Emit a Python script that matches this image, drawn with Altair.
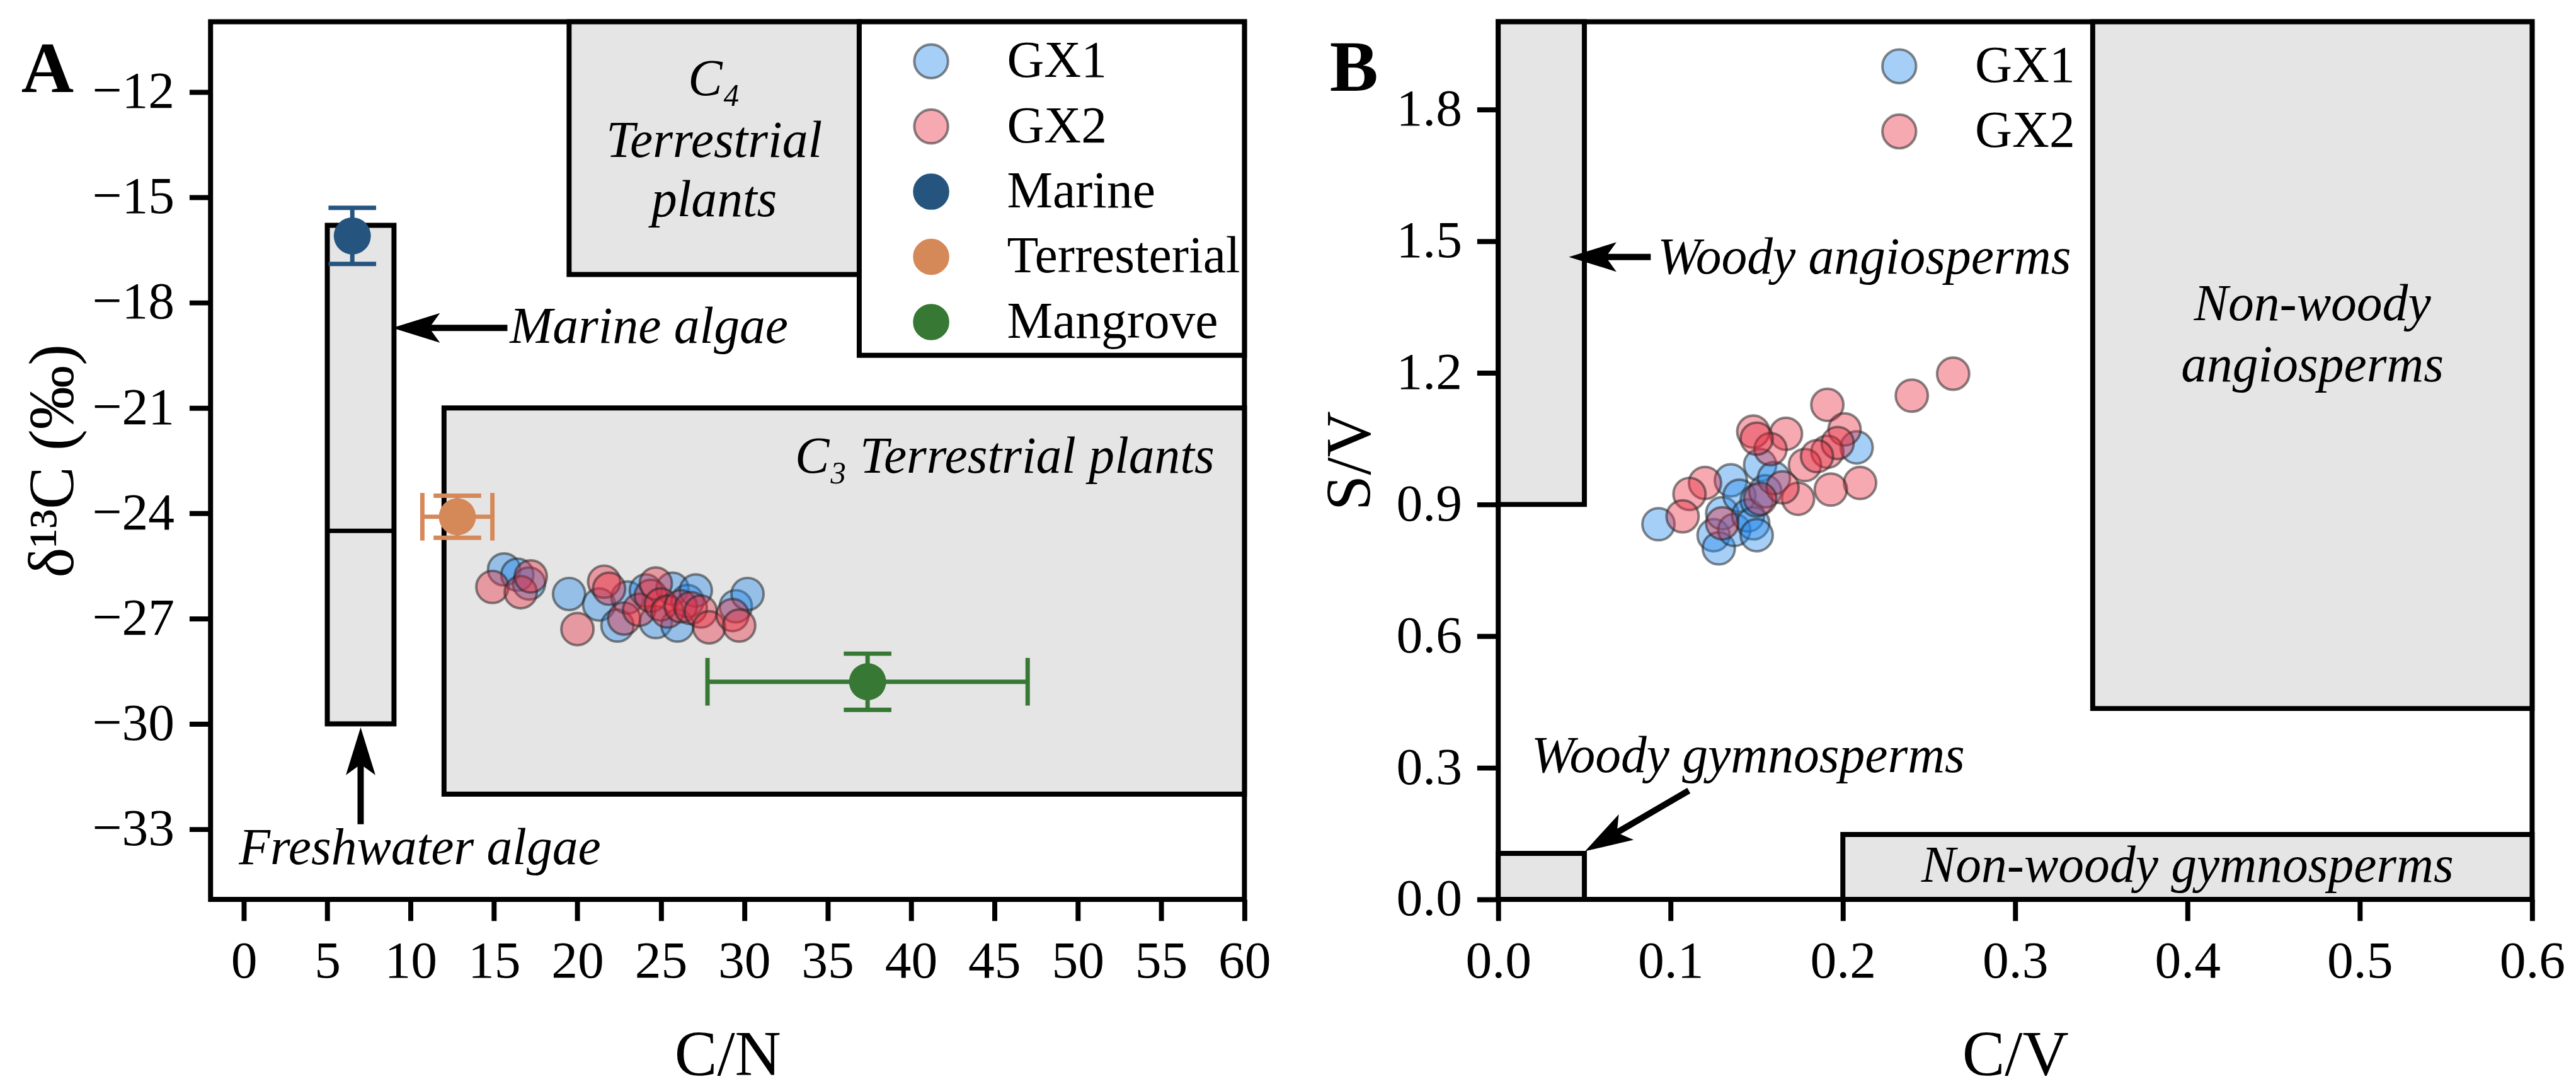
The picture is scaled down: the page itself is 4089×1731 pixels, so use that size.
import math
import altair as alt
import pandas as pd

FONT = "Liberation Serif"
W, H = 1650, 1400

# ---------------- Panel A : C/N vs d13C ----------------
A_XDOM = [-2, 60]
A_YDOM = [-35, -10]
A_XTICKS = list(range(0, 61, 5))
A_YTICKS = list(range(-33, -11, 3))

gx1_cn = [15.6, 16.4, 17.1, 19.5, 21.3, 22.4, 23.0, 24.1, 24.7, 25.7, 26.0, 26.6, 27.1, 29.5, 30.2]
gx1_d13c = [-25.6, -25.75, -26.0, -26.3, -26.6, -27.2, -26.4, -26.2, -27.1, -26.15, -27.2, -26.5, -26.2, -26.65, -26.3]
gx2_cn = [14.9, 16.6, 17.2, 20.0, 21.6, 21.9, 22.8, 23.7, 24.4, 24.7, 25.0, 25.4, 26.2, 26.8, 27.4, 27.9, 29.3, 29.7]
gx2_d13c = [-26.1, -26.25, -25.8, -27.3, -25.95, -26.15, -27.0, -26.75, -26.35, -26.0, -26.6, -26.8, -26.65, -26.7, -26.8, -27.25, -26.9, -27.2]

src_names = ["Marine", "Terresterial", "Mangrove"]
src_colors = ["#25557f", "#d58959", "#367834"]
src_cn = [6.5, 12.8, 37.4]
src_cn_err = [0.0, 2.1, 9.6]
src_d13c = [-16.1, -24.1, -28.8]
src_d13c_err = [0.8, 0.6, 0.8]

boxA_x1 = [5, 19.5, 12]
boxA_x2 = [9, 36.9, 60]
boxA_y1 = [-30, -17.2, -32]
boxA_y2 = [-15.8, -10, -21]
dividerA_x = [5, 9]
dividerA_y = [-24.5]
legboxA_x = [36.9, 60]
legboxA_y = [-19.5, -10]

textA_center = ["C\u2084", "Terrestrial", "plants"]
textA_center_x = [28.2, 28.2, 28.2]
textA_center_y = [-11.65, -13.4, -15.1]
textA_right = ["C\u2083 Terrestrial plants"]
textA_right_x = [58.2]
textA_right_y = [-22.4]
textA_left = ["Marine algae", "Freshwater algae"]
textA_left_x = [15.95, -0.3]
textA_left_y = [-18.7, -33.55]

arrowA_tail_x = [15.8, 7.0]
arrowA_tail_y = [-18.72, -32.86]
arrowA_tip_x = [8.9, 7.0]
arrowA_tip_y = [-18.72, -30.1]

# ---------------- Panel B : C/V vs S/V ----------------
B_XDOM = [0, 0.6]
B_YDOM = [0, 2.0]
B_XTICKS = [0, 0.1, 0.2, 0.3, 0.4, 0.5, 0.6]
B_YTICKS = [0, 0.3, 0.6, 0.9, 1.2, 1.5, 1.8]

gx1_cv = [0.093, 0.125, 0.128, 0.130, 0.135, 0.137, 0.140, 0.145, 0.148, 0.150, 0.150, 0.152, 0.155, 0.160, 0.208]
gx1_sv = [0.855, 0.830, 0.800, 0.880, 0.955, 0.842, 0.920, 0.875, 0.857, 0.909, 0.830, 0.990, 0.930, 0.960, 1.030]
gx2_cv = [0.264, 0.240, 0.191, 0.201, 0.167, 0.148, 0.158, 0.191, 0.197, 0.178, 0.210, 0.193, 0.174, 0.165,
          0.152, 0.120, 0.111, 0.107, 0.130, 0.150, 0.185]
gx2_sv = [1.198, 1.148, 1.127, 1.071, 1.061, 1.066, 1.026, 1.020, 1.040, 0.990, 0.949, 0.934, 0.913, 0.939,
          0.913, 0.949, 0.924, 0.873, 0.857, 1.050, 1.010]

boxB_x1 = [0, 0, 0.345, 0.2]
boxB_x2 = [0.05, 0.05, 0.6, 0.6]
boxB_y1 = [0.9, 0, 0.435, 0]
boxB_y2 = [2.0, 0.105, 2.0, 0.148]

textB_left = ["Woody angiosperms", "Woody gymnosperms"]
textB_left_x = [0.0925, 0.0193]
textB_left_y = [1.462, 0.326]
textB_center = ["Non-woody", "angiosperms", "Non-woody gymnosperms"]
textB_center_x = [0.4725, 0.4725, 0.4]
textB_center_y = [1.355, 1.216, 0.0765]

arrowB_tail_x = [0.0885, 0.1106]
arrowB_tail_y = [1.464, 0.248]
arrowB_tip_x = [0.041, 0.0504]
arrowB_tip_y = [1.464, 0.11]

# ---------------- styling ----------------
series_domain = ["GX1", "GX2"] + src_names
fill_range = ["rgba(33,136,235,0.4)", "rgba(232,40,60,0.4)"] + src_colors
stroke_range = ["rgba(40,40,40,0.55)", "rgba(40,40,40,0.55)"] + src_colors
BOX_FILL = "#e5e5e5"
HEAD = "M0,0 L-2,-0.62 L-1.55,0 L-2,0.62 Z"
HEAD_SIZE = 5776
NECK_PX = 40


class Axes:
    """Identical x / y encodings for every layer of one panel, so the axes merge."""

    def __init__(self, xdom, ydom, xticks, yticks, fmt, xtitle, ytitle, ytitle_x):
        self.xs = alt.Scale(domain=xdom, nice=False, zero=False)
        self.ys = alt.Scale(domain=ydom, nice=False, zero=False)
        self.xaxis = alt.Axis(values=xticks, format=fmt, titleY=280, titleBaseline="alphabetic")
        self.yaxis = alt.Axis(values=yticks, format=fmt, titleX=ytitle_x, titleBaseline="alphabetic")
        self.xtitle, self.ytitle = xtitle, ytitle

    def x(self, field):
        return alt.X(field, type="quantitative", scale=self.xs, axis=self.xaxis, title=self.xtitle)

    def y(self, field):
        return alt.Y(field, type="quantitative", scale=self.ys, axis=self.yaxis, title=self.ytitle)


def arrow_frame(tx, ty, px, py, kx, ky):
    rows = []
    for a, b, c, d in zip(tx, ty, px, py):
        dxp = (c - a) * kx
        dyp = -(d - b) * ky
        L = math.hypot(dxp, dyp)
        f = NECK_PX / L
        rows.append({
            "tail_x": a, "tail_y": b, "tip_x": c, "tip_y": d,
            "neck_x": c + (a - c) * f, "neck_y": d + (b - d) * f,
            "ang": math.degrees(math.atan2(dyp, dxp)) % 360,
        })
    return pd.DataFrame(rows)


def text_layer(ax, labels, xs, ys, align, size=82):
    df = pd.DataFrame({"label": labels, "x": xs, "y": ys})
    return alt.Chart(df).mark_text(
        font=FONT, fontStyle="italic", fontSize=size, align=align, baseline="middle", color="black"
    ).encode(x=ax.x("x"), y=ax.y("y"), text="label:N")


def arrow_layers(ax, adf):
    shaft = alt.Chart(adf).mark_rule(strokeWidth=10, color="black").encode(
        x=ax.x("tail_x"), y=ax.y("tail_y"), x2="neck_x:Q", y2="neck_y:Q")
    head = alt.Chart(adf).mark_point(
        shape=HEAD, filled=True, fill="black", size=HEAD_SIZE, opacity=1, strokeWidth=0
    ).encode(x=ax.x("tip_x"), y=ax.y("tip_y"), angle=alt.Angle("ang:Q", scale=None))
    return [shaft, head]


def letter_layer(letter, xpx, ypx):
    return alt.Chart(pd.DataFrame({"t": [letter]})).mark_text(
        font=FONT, fontWeight="bold", fontSize=116, align="left", baseline="alphabetic", color="black"
    ).encode(text="t:N", x=alt.value(xpx), y=alt.value(ypx))


def legend(lx, ly):
    return alt.Legend(title=None, orient="none", legendX=lx, legendY=ly, labelFont=FONT, labelFontSize=82,
                      labelColor="black", symbolSize=2900, symbolStrokeWidth=4, rowPadding=22, labelOffset=80,
                      padding=0, symbolType="circle", labelLimit=2000)


# ---------------- Panel A build ----------------
axA = Axes(A_XDOM, A_YDOM, A_XTICKS, A_YTICKS, "d", "C/N", "\u03b4\u00b9\u00b3C (\u2030)", -220)

boxesA = alt.Chart(pd.DataFrame({"x1": boxA_x1, "x2": boxA_x2, "y1": boxA_y1, "y2": boxA_y2})).mark_rect(
    fill=BOX_FILL, stroke="black", strokeWidth=8
).encode(x=axA.x("x1"), x2="x2:Q", y=axA.y("y1"), y2="y2:Q")

dividerA = alt.Chart(pd.DataFrame({"x1": [dividerA_x[0]], "x2": [dividerA_x[1]], "y": dividerA_y})).mark_rule(
    strokeWidth=7, color="black"
).encode(x=axA.x("x1"), x2="x2:Q", y=axA.y("y"))

legboxA = alt.Chart(pd.DataFrame({"x1": [legboxA_x[0]], "x2": [legboxA_x[1]],
                                  "y1": [legboxA_y[0]], "y2": [legboxA_y[1]]})).mark_rect(
    fill="white", stroke="black", strokeWidth=8
).encode(x=axA.x("x1"), x2="x2:Q", y=axA.y("y1"), y2="y2:Q")

kxA, kyA = W / (A_XDOM[1] - A_XDOM[0]), H / (A_YDOM[1] - A_YDOM[0])
arrowsA = arrow_layers(axA, arrow_frame(arrowA_tail_x, arrowA_tail_y, arrowA_tip_x, arrowA_tip_y, kxA, kyA))

err_layers = []
for name, col, cx, cxe, cy, cye in zip(src_names, src_colors, src_cn, src_cn_err, src_d13c, src_d13c_err):
    if cye > 0:
        ydf = pd.DataFrame({"x": [cx], "lo": [cy - cye], "hi": [cy + cye]})
        err_layers.append(alt.Chart(ydf).mark_rule(strokeWidth=7, color=col).encode(
            x=axA.x("x"), y=axA.y("lo"), y2="hi:Q"))
        cdf = pd.DataFrame({"x": [cx, cx], "y": [cy - cye, cy + cye]})
        err_layers.append(alt.Chart(cdf).mark_tick(orient="horizontal", size=76, thickness=7, color=col,
                                                   opacity=1).encode(x=axA.x("x"), y=axA.y("y")))
    if cxe > 0:
        xdf = pd.DataFrame({"y": [cy], "lo": [cx - cxe], "hi": [cx + cxe]})
        err_layers.append(alt.Chart(xdf).mark_rule(strokeWidth=7, color=col).encode(
            x=axA.x("lo"), x2="hi:Q", y=axA.y("y")))
        cdf = pd.DataFrame({"x": [cx - cxe, cx + cxe], "y": [cy, cy]})
        err_layers.append(alt.Chart(cdf).mark_tick(orient="vertical", size=76, thickness=7, color=col,
                                                   opacity=1).encode(x=axA.x("x"), y=axA.y("y")))

legA = legend(1109, 22)
colA = alt.Color("series:N", scale=alt.Scale(domain=series_domain, range=fill_range), legend=legA)
strA = alt.Stroke("series:N", scale=alt.Scale(domain=series_domain, range=stroke_range), legend=legA)

gxA_df = pd.DataFrame({
    "series": ["GX1"] * len(gx1_cn) + ["GX2"] * len(gx2_cn),
    "x": gx1_cn + gx2_cn,
    "y": gx1_d13c + gx2_d13c,
})
gxA = alt.Chart(gxA_df).mark_point(filled=True, size=2640, strokeWidth=4, opacity=1).encode(
    x=axA.x("x"), y=axA.y("y"), color=colA, stroke=strA)

srcA_df = pd.DataFrame({"series": src_names, "x": src_cn, "y": src_d13c})
srcA = alt.Chart(srcA_df).mark_point(filled=True, size=3500, strokeWidth=0, opacity=1).encode(
    x=axA.x("x"), y=axA.y("y"), color=colA, stroke=strA)

panelA = alt.layer(
    boxesA, dividerA, legboxA,
    text_layer(axA, textA_center, textA_center_x, textA_center_y, "center"),
    text_layer(axA, textA_right, textA_right_x, textA_right_y, "right"),
    text_layer(axA, textA_left, textA_left_x, textA_left_y, "left"),
    *arrowsA, *err_layers, gxA, srcA,
    letter_layer("A", -302, 112),
).properties(width=W, height=H)

# ---------------- Panel B build ----------------
axB = Axes(B_XDOM, B_YDOM, B_XTICKS, B_YTICKS, ".1f", "C/V", "S/V", -205)

boxesB = alt.Chart(pd.DataFrame({"x1": boxB_x1, "x2": boxB_x2, "y1": boxB_y1, "y2": boxB_y2})).mark_rect(
    fill=BOX_FILL, stroke="black", strokeWidth=8
).encode(x=axB.x("x1"), x2="x2:Q", y=axB.y("y1"), y2="y2:Q")

kxB, kyB = W / (B_XDOM[1] - B_XDOM[0]), H / (B_YDOM[1] - B_YDOM[0])
arrowsB = arrow_layers(axB, arrow_frame(arrowB_tail_x, arrowB_tail_y, arrowB_tip_x, arrowB_tip_y, kxB, kyB))

legB = legend(599, 30)
colB = alt.Color("series:N", scale=alt.Scale(domain=["GX1", "GX2"], range=fill_range[:2]), legend=legB)
strB = alt.Stroke("series:N", scale=alt.Scale(domain=["GX1", "GX2"], range=stroke_range[:2]), legend=legB)

gxB_df = pd.DataFrame({
    "series": ["GX1"] * len(gx1_cv) + ["GX2"] * len(gx2_cv),
    "x": gx1_cv + gx2_cv,
    "y": gx1_sv + gx2_sv,
})
gxB = alt.Chart(gxB_df).mark_point(filled=True, size=2640, strokeWidth=4, opacity=1).encode(
    x=axB.x("x"), y=axB.y("y"), color=colB, stroke=strB)

panelB = alt.layer(
    boxesB,
    text_layer(axB, textB_left, textB_left_x, textB_left_y, "left"),
    text_layer(axB, textB_center, textB_center_x, textB_center_y, "center"),
    *arrowsB, gxB,
    letter_layer("B", -269, 110),
).properties(width=W, height=H)

chart = alt.hconcat(panelA, panelB, spacing=68).resolve_scale(
    color="independent", stroke="independent"
).properties(
    padding={"left": 22, "top": 14, "right": 5, "bottom": 5}
).configure_view(
    stroke="black", strokeWidth=8
).configure_axis(
    labelFont=FONT, labelFontSize=84, labelColor="black", labelPadding=24,
    titleFont=FONT, titleFontSize=102, titleFontWeight="normal", titleColor="black",
    tickColor="black", tickWidth=8, tickSize=34, domain=False, grid=False,
    labelFlush=False, labelOverlap=False,
)

chart.save("out.html", embed_options={"renderer": "svg", "actions": False})
